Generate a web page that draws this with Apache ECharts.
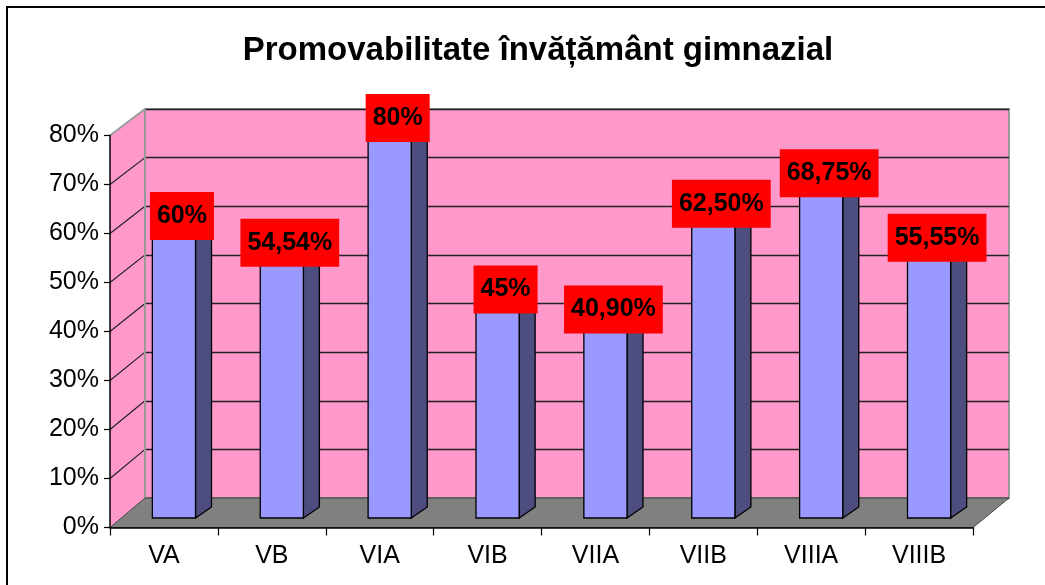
<!DOCTYPE html>
<html><head><meta charset="utf-8">
<script src="https://cdn.jsdelivr.net/npm/echarts@6/dist/echarts.min.js"></script>
<style>html,body{margin:0;padding:0;background:#fff}#c{width:1045px;height:585px}</style>
</head><body><div id="c"></div>
<script>
// ---- data ----
const categories = ['VA', 'VB', 'VIA', 'VIB', 'VIIA', 'VIIB', 'VIIIA', 'VIIIB'];
const values = [60, 54.54, 80, 45, 40.9, 62.5, 68.75, 55.55];
const yTicks = [0, 10, 20, 30, 40, 50, 60, 70, 80];
const chartTitle = 'Promovabilitate învățământ gimnazial';

// ---- layout / style ----
const FRONT = { left: 110, top: 135.5, width: 863, height: 392 };
const BACK = { left: 145, top: 109, width: 864, height: 389 };
const BAR = { offX: 10, widthFrac: 0.4, depthX: 16, depthY: -11, baseLift: 9.5 };
const C = { wall: '#FF99CC', floor: '#808080', front: '#9999FF', side: '#4D4D80', label: '#FF0000' };
const FONT = '"Liberation Sans", Arial, Helvetica, sans-serif';

const yMin = yTicks[0], yMax = yTicks[yTicks.length - 1], yStep = yTicks[1] - yTicks[0];
const fmt = v => (Number.isInteger(v) ? String(v) : v.toFixed(2).replace('.', ',')) + '%';

function backY(yF, cs) { return BACK.top + (yF - cs.y) * (BACK.height / cs.height); }

function renderWalls(params, api) {
  const cs = params.coordSys;
  const bx = BACK.left, bxR = BACK.left + BACK.width;
  const y0F = api.coord([0, yMin])[1], yTF = api.coord([0, yMax])[1];
  const y0B = backY(y0F, cs), yTB = backY(yTF, cs);
  const ch = [];
  ch.push({ type: 'polygon', shape: { points: [[cs.x, y0F], [cs.x, yTF], [bx, yTB], [bx, y0B]] },
    style: { fill: C.wall, stroke: null } });
  yTicks.forEach(t => {
    if (t === yMin || t === yMax) return;
    const yf = api.coord([0, t])[1];
    ch.push({ type: 'line', shape: { x1: cs.x, y1: yf, x2: bx, y2: backY(yf, cs) },
      style: { stroke: '#222', lineWidth: 1.2 } });
  });
  ch.push({ type: 'line', shape: { x1: cs.x, y1: yTF, x2: bx, y2: yTB }, style: { stroke: '#999', lineWidth: 2 } });
  ch.push({ type: 'line', shape: { x1: bx, y1: yTB, x2: bx, y2: y0B }, style: { stroke: '#999', lineWidth: 2 } });
  ch.push({ type: 'polygon', shape: { points: [[cs.x, y0F], [cs.x + cs.width, y0F], [bxR, y0B], [bx, y0B]] },
    style: { fill: C.floor, stroke: '#444', lineWidth: 1 } });
  return { type: 'group', children: ch };
}

function barGeom(api) {
  const i = api.value(0), v = api.value(1);
  const c0 = api.coord([i, yMin]), c1 = api.coord([i, v]);
  const bw = api.size([1, 0])[0];
  const w = bw * BAR.widthFrac;
  const cx = c0[0] + BAR.offX;
  const yb = c0[1] - BAR.baseLift, yt = c1[1] - BAR.baseLift;
  return { xl: cx - w / 2, xr: cx + w / 2, yb, yt, cx, v };
}

function renderBar(params, api) {
  const g = barGeom(api);
  const dx = BAR.depthX, dy = BAR.depthY;
  return { type: 'group', children: [
    { type: 'polygon', shape: { points: [[g.xl, g.yt], [g.xr, g.yt], [g.xr + dx, g.yt + dy], [g.xl + dx, g.yt + dy]] },
      style: { fill: '#B3B3FF', stroke: '#000', lineWidth: 1.3 } },
    { type: 'polygon', shape: { points: [[g.xr, g.yt], [g.xr + dx, g.yt + dy], [g.xr + dx, g.yb + dy], [g.xr, g.yb]] },
      style: { fill: C.side, stroke: '#000', lineWidth: 1.3 } },
    { type: 'rect', shape: { x: g.xl, y: g.yt, width: g.xr - g.xl, height: g.yb - g.yt },
      style: { fill: C.front, stroke: '#000', lineWidth: 1.3 } }
  ] };
}

function renderLabel(params, api) {
  const g = barGeom(api);
  return { type: 'text', style: {
    text: fmt(g.v), x: g.cx + BAR.depthX / 2, y: g.yt - 8,
    align: 'center', verticalAlign: 'middle',
    font: 'bold 25px ' + FONT, fill: '#000',
    backgroundColor: C.label, padding: [11.5, 7]
  } };
}

const barData = values.map((v, i) => [i, v]);

const option = {
  animation: false,
  backgroundColor: '#fff',
  title: {
    text: chartTitle, left: 533, top: 29, textAlign: 'center',
    textStyle: { fontFamily: FONT, fontWeight: 'bold', fontSize: 33, color: '#000' }
  },
  graphic: [{ type: 'rect', shape: { x: 7, y: 7, width: 1200, height: 800 },
    style: { fill: null, stroke: '#000', lineWidth: 2 }, z: 100, silent: true }],
  grid: [
    { left: FRONT.left, top: FRONT.top, width: FRONT.width, height: FRONT.height, containLabel: false },
    { left: BACK.left, top: BACK.top, width: BACK.width, height: BACK.height, show: true,
      backgroundColor: C.wall, borderColor: '#999', borderWidth: 2, z: 0 }
  ],
  xAxis: [
    { type: 'category', gridIndex: 0, data: categories, z: 10,
      axisLine: { lineStyle: { color: '#000', width: 1.5 } },
      axisTick: { show: true, length: 8, lineStyle: { color: '#000', width: 1.2 } },
      axisLabel: { color: '#000', fontFamily: FONT, fontSize: 25, margin: 16 } },
    { type: 'category', gridIndex: 1, data: categories, show: false }
  ],
  yAxis: [
    { type: 'value', gridIndex: 0, min: yMin, max: yMax, interval: yStep, z: 10,
      axisLine: { show: true, lineStyle: { color: '#000', width: 1.5 } },
      axisTick: { show: true, length: 6, lineStyle: { color: '#000', width: 1.2 } },
      splitLine: { show: false },
      axisLabel: { color: '#000', fontFamily: FONT, fontSize: 25, margin: 11, formatter: '{value}%' } },
    { type: 'value', gridIndex: 1, min: yMin, max: yMax, interval: yStep,
      axisLine: { show: false }, axisTick: { show: false }, axisLabel: { show: false },
      splitLine: { show: true, lineStyle: { color: '#222', width: 1.3 } } }
  ],
  series: [
    { type: 'custom', name: 'walls', xAxisIndex: 0, yAxisIndex: 0, z: 1, silent: true,
      renderItem: renderWalls, data: [[0, 0]] },
    { type: 'custom', name: 'bars', xAxisIndex: 0, yAxisIndex: 0, z: 2, silent: true,
      renderItem: renderBar, data: barData },
    { type: 'custom', name: 'labels', xAxisIndex: 0, yAxisIndex: 0, z: 3, silent: true,
      renderItem: renderLabel, data: barData }
  ]
};

const chart = echarts.init(document.getElementById('c'), null, { renderer: 'canvas' });
chart.setOption(option);
</script></body></html>
